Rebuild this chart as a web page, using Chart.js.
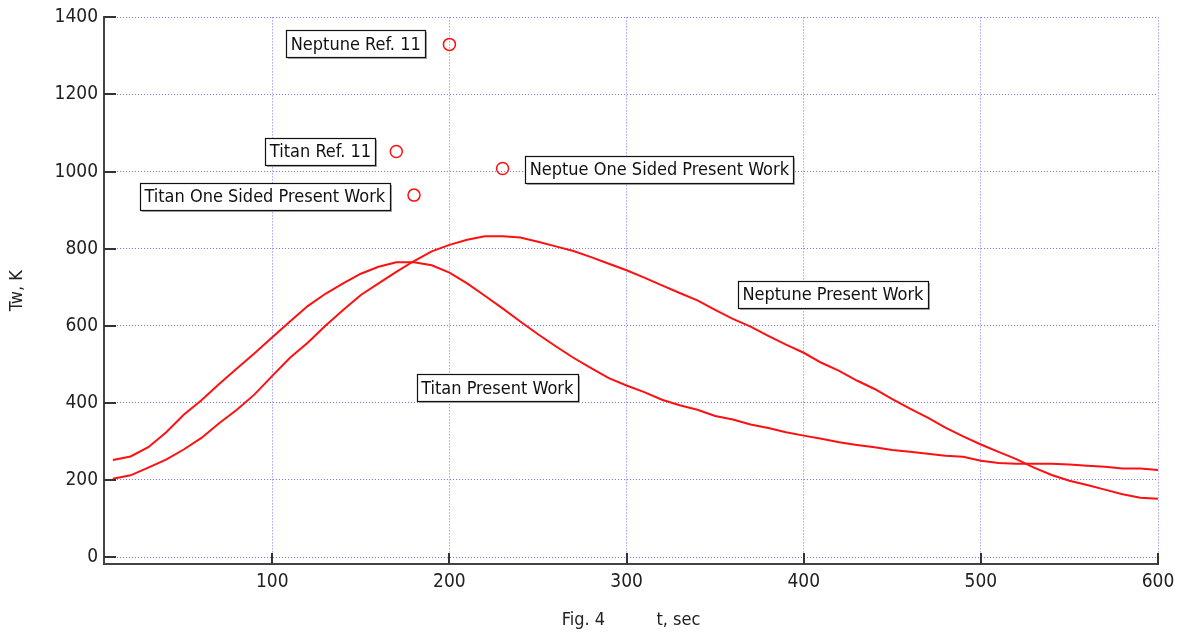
<!DOCTYPE html>
<html><head><meta charset="utf-8">
<script src="https://cdn.jsdelivr.net/npm/chart.js@4/dist/chart.umd.min.js"></script>
<style>html,body{margin:0;padding:0;background:#fff}#wrap{width:1184px;height:634px}</style>
</head><body><div id="wrap"><canvas id="c" width="1184" height="634"></canvas></div>
<script>
// ---- data ----
const tSec = [10,20,30,40,50,60,70,80,90,100,110,120,130,140,150,160,170,180,190,200,
  210,220,230,240,250,260,270,280,290,300,310,320,330,340,350,360,370,380,390,400,
  410,420,430,440,450,460,470,480,490,500,510,520,530,540,550,560,570,580,590,600];
const titanPresent = [252,261,285,323,369,407,449,489,529,570,611,651,683,710,735,753,765,765,757,738,
  710,678,645,611,578,547,517,490,464,445,428,408,394,382,366,357,344,335,324,315,
  307,298,291,285,278,273,268,263,260,250,244,242,242,242,240,237,234,230,230,226];
const neptunePresent = [203,212,232,253,279,309,347,382,422,470,517,556,600,641,680,710,740,768,793,810,
  823,832,832,829,818,806,794,778,761,744,725,705,685,666,641,618,598,574,551,530,
  504,483,458,436,410,385,362,336,313,292,273,254,232,213,198,187,175,163,154,151];
const markerNames = ["Neptune Ref. 11","Titan Ref. 11","Neptue One Sided Present Work","Titan One Sided Present Work"];
const markerT = [200,170,230,180];
const markerTw = [1330,1052,1008,939];
const xTickValues = [100,200,300,400,500,600];
const yTickValues = [0,200,400,600,800,1000,1200,1400];
// text boxes: text and data-space anchor (centre)
const labelTexts = ["Neptune Ref. 11","Titan Ref. 11","Neptue One Sided Present Work","Titan One Sided Present Work","Titan Present Work","Neptune Present Work"];
const labelT = [147.1,127.2,318.5,95.8,227,416.5];
const labelTw = [1331,1052,1005,936,439,681];

const FONT = "'DejaVu Sans Condensed', 'DejaVu Sans', sans-serif";
const GRID = 'rgb(120,120,255)';

const tickMarks = {
  id:'tickMarks',
  afterDraw(chart){
    const {ctx, chartArea:a, scales:{x,y}} = chart;
    ctx.save();
    ctx.strokeStyle='#333'; ctx.lineWidth=2;
    ctx.beginPath();
    x.ticks.forEach(t=>{const px=Math.round(x.getPixelForValue(t.value)); ctx.moveTo(px,a.bottom); ctx.lineTo(px,a.bottom-11);});
    y.ticks.forEach(t=>{const py=Math.round(y.getPixelForValue(t.value)); ctx.moveTo(a.left,py); ctx.lineTo(a.left+12,py);});
    ctx.stroke();
    ctx.restore();
  }
};
const textBoxes = {
  id:'textBoxes',
  afterDatasetsDraw(chart){
    const {ctx, scales:{x,y}} = chart;
    ctx.save();
    ctx.font = "18px " + FONT;
    ctx.textAlign='center'; ctx.textBaseline='middle';
    labelTexts.forEach((txt,i)=>{
      const cx = x.getPixelForValue(labelT[i]);
      const cy = y.getPixelForValue(labelTw[i]);
      const w = Math.round(ctx.measureText(txt).width + 9);
      const h = 27;
      const l = Math.round(cx - w/2)+0.5, t = Math.round(cy - h/2)+0.5;
      ctx.fillStyle='#aaa';
      ctx.fillRect(l+1.5,t+1.5,w,h);
      ctx.fillStyle='#fff';
      ctx.fillRect(l,t,w,h);
      ctx.strokeStyle='#111'; ctx.lineWidth=1.2;
      ctx.strokeRect(l,t,w,h);
      ctx.fillStyle='#111';
      ctx.fillText(txt, cx, cy+1);
    });
    ctx.restore();
  }
};

const lineDs = (label, vals) => ({
  type:'line', label,
  data: tSec.map((t,i)=>({x:t,y:vals[i]})),
  borderColor:'#ff1010', borderWidth:2, pointRadius:0, tension:0, fill:false
});

new Chart(document.getElementById('c'), {
  data:{
    datasets:[
      lineDs('Titan Present Work', titanPresent),
      lineDs('Neptune Present Work', neptunePresent),
      { type:'scatter', label:'markers',
        data: markerT.map((t,i)=>({x:t,y:markerTw[i]})),
        pointStyle:'circle', pointRadius:6, pointBorderWidth:1.5,
        borderColor:'#ff1010', backgroundColor:'rgba(0,0,0,0)', pointBackgroundColor:'rgba(0,0,0,0)' }
    ]
  },
  options:{
    responsive:false, animation:false, devicePixelRatio:1,
    layout:{padding:{left:0,right:26,top:14,bottom:0}},
    plugins:{legend:{display:false}, tooltip:{enabled:false}},
    scales:{
      x:{
        type:'linear', min:5, max:600,
        afterBuildTicks:s=>{s.ticks = xTickValues.map(v=>({value:v}));},
        afterFit:s=>{s.height=70;},
        ticks:{font:{family:FONT,size:19}, color:'#222', padding:7, maxRotation:0, callback:v=>String(v)},
        grid:{color:GRID, lineWidth:1, drawTicks:false},
        border:{display:true, color:'#444', width:2, dash:[1,2]},
        title:{display:true, text:'Fig. 4          t, sec', font:{family:FONT,size:18}, color:'#222', padding:{top:0,bottom:3}}
      },
      y:{
        type:'linear', min:-18, max:1400,
        afterBuildTicks:s=>{s.ticks = yTickValues.map(v=>({value:v}));},
        afterFit:s=>{s.width=104;},
        ticks:{font:{family:FONT,size:19}, color:'#222', padding:6, callback:v=>String(v)},
        grid:{color:GRID, lineWidth:1, drawTicks:false},
        border:{display:true, color:'#444', width:2, dash:[1,2]},
        title:{display:true, text:'Tw, K', font:{family:FONT,size:18}, color:'#222', padding:{top:7,bottom:0}}
      }
    }
  },
  plugins:[tickMarks, textBoxes]
});
</script>
</body></html>
